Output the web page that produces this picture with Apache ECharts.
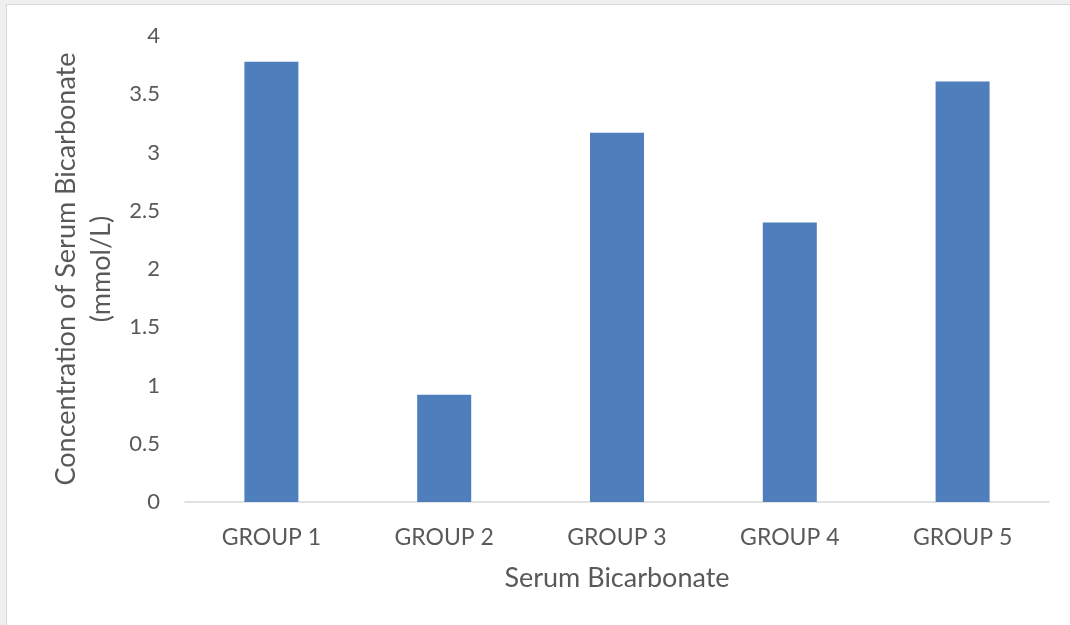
<!DOCTYPE html>
<html>
<head>
<meta charset="utf-8">
<title>Serum Bicarbonate</title>
<script src="https://cdn.jsdelivr.net/npm/echarts@6/dist/echarts.min.js"></script>
<style>
  html, body { margin: 0; padding: 0; background: #efefef; }
  #frame {
    position: absolute; left: 6px; top: 4px; right: 0; bottom: 0;
    background: #ffffff;
    border-left: 1px solid #d8d8d8; border-top: 1px solid #d8d8d8;
  }
  #chart { position: absolute; left: -7px; top: -5px; width: 1070px; height: 625px; }
</style>
</head>
<body>
<div id="frame"><div id="chart"></div></div>
<script>
// Serum bicarbonate concentration per group (mmol/L)
const categories = ['GROUP 1', 'GROUP 2', 'GROUP 3', 'GROUP 4', 'GROUP 5'];
const bicarbonate = [3.78, 0.92, 3.17, 2.40, 3.61];
const yTicks = { min: 0, max: 4, step: 0.5 };

const textColor = '#595959';
const fontFamily = 'Lato, "Open Sans", sans-serif';

const chart = echarts.init(document.getElementById('chart'), null, { renderer: 'canvas' });
chart.setOption({
  backgroundColor: 'transparent',
  animation: false,
  grid: { left: 185, right: 21, top: 36, bottom: 123 },
  xAxis: {
    type: 'category',
    data: categories,
    axisLine: { lineStyle: { color: '#d9d9d9', width: 1.5 } },
    axisTick: { show: false },
    axisLabel: { color: textColor, fontFamily, fontSize: 23, margin: 24 },
    name: 'Serum Bicarbonate',
    nameLocation: 'middle',
    nameGap: 63,
    nameTextStyle: { color: textColor, fontFamily, fontSize: 27, verticalAlign: 'top' }
  },
  yAxis: {
    type: 'value',
    min: yTicks.min,
    max: yTicks.max,
    interval: yTicks.step,
    axisLine: { show: false },
    axisTick: { show: false },
    splitLine: { show: false },
    axisLabel: { color: textColor, fontFamily, fontSize: 22, margin: 25 },
    name: 'Concentration of Serum Bicarbonate\n(mmol/L)',
    nameLocation: 'middle',
    nameGap: 66,
    nameTextStyle: { color: textColor, fontFamily, fontSize: 27, lineHeight: 35 }
  },
  series: [{
    type: 'bar',
    data: bicarbonate,
    barWidth: 54,
    itemStyle: { color: '#4e7ebc' }
  }]
});
</script>
</body>
</html>
